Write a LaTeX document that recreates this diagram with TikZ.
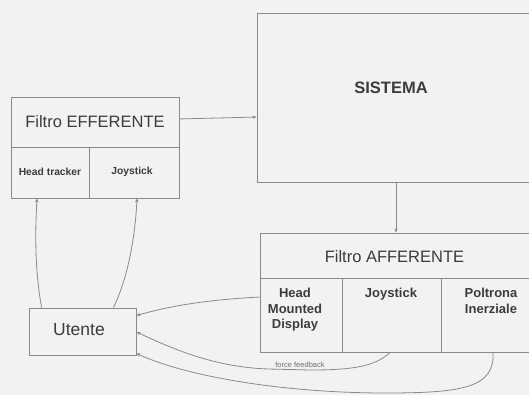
\documentclass[tikz,border=0pt]{standalone}
\usepackage{fontspec}
\setmainfont{Liberation Sans}
\usetikzlibrary{arrows.meta,calc}
\definecolor{bg}{HTML}{F1F2F1}
\definecolor{ln}{HTML}{8A8A8A}
\definecolor{tx}{HTML}{3C3C3C}
\begin{document}
\begin{tikzpicture}[x=1pt,y=-1pt,
  box/.style={draw=ln,line width=0.9pt,rectangle,inner sep=0pt,text=tx},
  lbl/.style={inner sep=0pt,text=tx,align=center},
  con/.style={draw=ln,line width=0.8pt},
  arr/.style={con,-{Stealth[length=4pt,width=3.5pt]}}]
\fill[bg] (0,0) rectangle (529,395);
\useasboundingbox (0,0) rectangle (529,395);
\clip (0,0) rectangle (529,395);
% Filtro EFFERENTE
\node[box,minimum width=168pt,minimum height=50pt,font=\fontsize{16.5}{18}\selectfont] (effh) at (95,122) {Filtro EFFERENTE};
\node[box,minimum width=78pt,minimum height=51pt] (eht) at (50,172.5) {};
\node[box,minimum width=90pt,minimum height=51pt] (ejs) at (134,172.5) {};
\node[lbl,font=\fontsize{10.3}{12}\selectfont\bfseries] (ehttxt) at (50,172) {Head tracker};
\node[lbl,font=\fontsize{10.3}{12}\selectfont\bfseries] (ejstxt) at (132,172) {Joystick};
% SISTEMA
\node[box,minimum width=274pt,minimum height=169pt] (sys) at (394,97.5) {};
\node[lbl,font=\fontsize{16.5}{18}\selectfont\bfseries] (systxt) at (391,88) {SISTEMA};
% Filtro AFFERENTE
\node[box,minimum width=271pt,minimum height=45pt] (affh) at (395.5,255.5) {};
\node[lbl,font=\fontsize{16.5}{18}\selectfont] (afftxt) at (394.5,257) {Filtro AFFERENTE};
\node[box,minimum width=82pt,minimum height=74pt] (hmd) at (301,315) {};
\node[box,minimum width=99pt,minimum height=74pt] (ajs) at (391.5,315) {};
\node[box,minimum width=90pt,minimum height=74pt] (pol) at (486,315) {};
\node[lbl,font=\fontsize{13}{15.5}\selectfont\bfseries,anchor=north] (hmdtxt) at (295,288) {Head\\Mounted\\Display};
\node[lbl,font=\fontsize{13}{15.5}\selectfont\bfseries,anchor=north] (ajstxt) at (391,288) {Joystick};
\node[lbl,font=\fontsize{13}{15.5}\selectfont\bfseries,anchor=north] (poltxt) at (491,288) {Poltrona\\Inerziale};
% Utente
\node[box,minimum width=107pt,minimum height=47pt] (ut) at (82.5,331.5) {};
\node[lbl,font=\fontsize{17.5}{20}\selectfont] (uttxt) at (79,330) {Utente};
% force feedback label
\node[lbl,font=\fontsize{7.5}{9}\selectfont,text=ln!80!black] (fftxt) at (300,365) {force feedback};
% connectors
\draw[arr] ($(effh.north east)!0.44!(effh.south east)$) -- ($(sys.north west)!0.615!(sys.south west)$);
\draw[arr] ([xshift=2pt]sys.south) -- ([xshift=2pt]sys.south |- affh.north);
\draw[arr] ([xshift=13pt]ut.north west) .. controls (35,270) and (35,235) .. ([xshift=-13pt]eht.south);
\draw[arr] ([xshift=-23pt]ut.north east) .. controls (127,280) and (135,240) .. ([xshift=3pt]ejs.south);
\draw[arr] ([yshift=18pt]hmd.west) .. controls (205,300) and (170,306) .. ([yshift=16pt]ut.east);
\draw[arr] ([xshift=-1.5pt]ajs.south) .. controls (375,367) and (350,370) .. (310,370) -- (268,369) .. controls (215,367) and (175,350) .. ([yshift=-0.5pt]ut.east);
\draw[arr] ([xshift=7pt]pol.south) .. controls (495,388) and (462,393) .. (385,393) .. controls (290,393) and (190,378) .. ([yshift=2pt]ut.south east);
\end{tikzpicture}
\end{document}
